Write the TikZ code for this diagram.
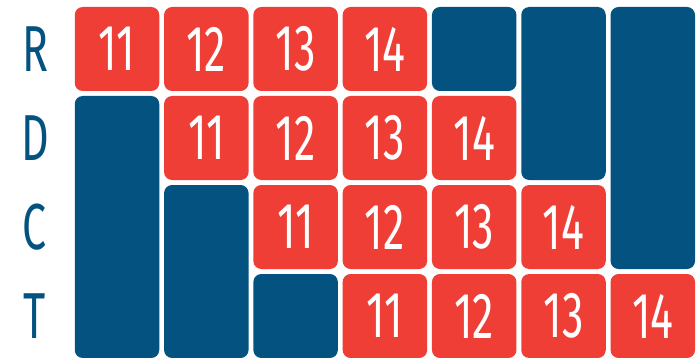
\documentclass[tikz,border=0pt]{standalone}
\usepackage{fontspec}
\setmainfont{Fira Sans}[FakeStretch=0.66]
\usepackage{tikz}
\usetikzlibrary{positioning}
\definecolor{cellred}{HTML}{EE3E36}
\definecolor{cellblue}{HTML}{045280}

\tikzset{
  cell/.style={rounded corners=8pt, minimum width=84.5pt, minimum height=84pt,
               inner sep=0pt, text=white, font=\fontsize{65}{65}\selectfont},
  redcell/.style={cell, fill=cellred},
  bluecell/.style={cell, fill=cellblue},
  rowlabel/.style={text=cellblue, font=\fontsize{65}{65}\selectfont, inner sep=0pt}
}

\begin{document}
\begin{tikzpicture}[x=1pt,y=1pt]
                \def\p{89.3}
                \useasboundingbox (0,0) rectangle (697,357);
                %Labels
                \node[rowlabel] (lR) at (35,308) {R};
                \node[rowlabel] (lD) at (35,219) {D};
                \node[rowlabel] (lC) at (35,130) {C};
                \node[rowlabel] (lT) at (35,41) {T};
                %Row R
                \node[redcell] (r11) at (117+0*\p,308) {11};
                \node[redcell] (r12) at (117+1*\p,308) {12};
                \node[redcell] (r13) at (117+2*\p,308) {13};
                \node[redcell] (r14) at (117+3*\p,308) {14};
                \node[bluecell] (rb) at (117+4*\p,308) {};
                %Row D
                \node[redcell] (d11) at (117+1*\p,219) {11};
                \node[redcell] (d12) at (117+2*\p,219) {12};
                \node[redcell] (d13) at (117+3*\p,219) {13};
                \node[redcell] (d14) at (117+4*\p,219) {14};
                %Row C
                \node[redcell] (c11) at (117+2*\p,130) {11};
                \node[redcell] (c12) at (117+3*\p,130) {12};
                \node[redcell] (c13) at (117+4*\p,130) {13};
                \node[redcell] (c14) at (117+5*\p,130) {14};
                %Row T
                \node[bluecell] (tb) at (117+2*\p,41) {};
                \node[redcell] (t11) at (117+3*\p,41) {11};
                \node[redcell] (t12) at (117+4*\p,41) {12};
                \node[redcell] (t13) at (117+5*\p,41) {13};
                \node[redcell] (t14) at (117+6*\p,41) {14};
                %Tall blocks
                \node[bluecell, minimum height=262pt] (b1) at (117+0*\p,130) {};
                \node[bluecell, minimum height=173pt] (b2) at (117+1*\p,85.5) {};
                \node[bluecell, minimum height=173pt] (b6) at (117+5*\p,263.5) {};
                \node[bluecell, minimum height=262pt] (b7) at (117+6*\p,219) {};
\end{tikzpicture}
\end{document}
